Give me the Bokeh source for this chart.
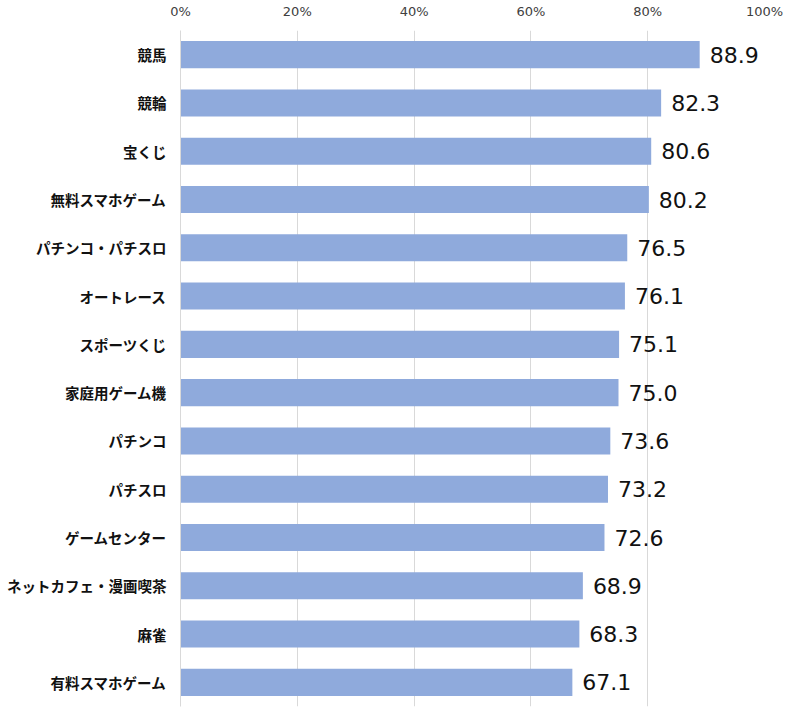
from bokeh.plotting import figure
from bokeh.models import ColumnDataSource, FixedTicker, PrintfTickFormatter, Range1d, LinearAxis
from bokeh.core.properties import value
from bokeh.embed import file_html
from bokeh.resources import INLINE

categories = ["競馬", "競輪", "宝くじ", "無料スマホゲーム", "パチンコ・パチスロ", "オートレース",
              "スポーツくじ", "家庭用ゲーム機", "パチンコ", "パチスロ", "ゲームセンター",
              "ネットカフェ・漫画喫茶", "麻雀", "有料スマホゲーム"]
values = [88.9, 82.3, 80.6, 80.2, 76.5, 76.1, 75.1, 75.0, 73.6, 73.2, 72.6, 68.9, 68.3, 67.1]
x_ticks = [0, 20, 40, 60, 80, 100]

FONT = "Noto Sans CJK JP"
NUM_FONT = "DejaVu Sans"

src = ColumnDataSource(dict(cat=categories, val=values, lab=[f"{v:.1f}" for v in values]))

p = figure(width=785, height=710, y_range=list(reversed(categories)),
           x_range=Range1d(0, 100), output_backend="svg", toolbar_location=None,
           x_axis_location=None, min_border_left=180, min_border_right=21,
           min_border_top=30, min_border_bottom=4)
p.outline_line_color = None

p.hbar(y="cat", right="val", left=0, height=0.56, source=src, color="#8faadc", line_color=None)
p.text(x="val", y="cat", text="lab", source=src, x_offset=10, text_baseline="middle",
       text_align="left", text_font_size="22px", text_color="#111111", text_font=value(NUM_FONT))

top = LinearAxis(ticker=FixedTicker(ticks=x_ticks), formatter=PrintfTickFormatter(format="%d%%"))
top.axis_line_color = None
top.major_tick_line_color = None
top.minor_tick_line_color = None
top.major_label_text_font = NUM_FONT
top.major_label_text_font_size = "13px"
top.major_label_text_color = "#404040"
top.major_label_standoff = 6
p.add_layout(top, "above")

p.xgrid.ticker = FixedTicker(ticks=x_ticks)
p.xgrid.grid_line_color = "#d9d9d9"
p.ygrid.grid_line_color = None

ya = p.yaxis[0]
ya.axis_line_color = "#d9d9d9"
ya.major_tick_line_color = None
ya.minor_tick_line_color = None
ya.major_label_text_font = FONT
ya.major_label_text_font_size = "14.5px"
ya.major_label_text_font_style = "bold"
ya.major_label_text_color = "#111111"
ya.major_label_standoff = 8

open("out.html", "w").write(file_html(p, INLINE))
